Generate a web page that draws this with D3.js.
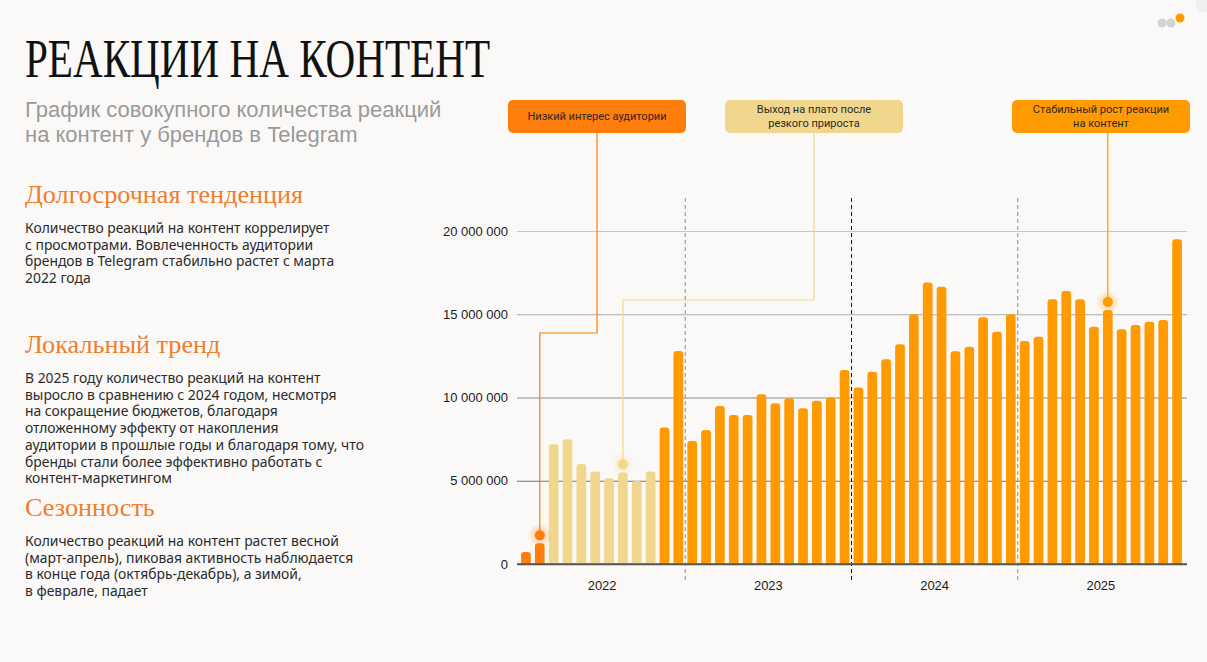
<!DOCTYPE html>
<html>
<head>
<meta charset="utf-8">
<script src="https://cdn.jsdelivr.net/npm/d3@7"></script>
<style>
  html, body { margin: 0; padding: 0; background: #faf9f7; }
  svg { display: block; }
</style>
</head>
<body>
<svg id="canvas" width="1207" height="662"></svg>
<script>
// data (reactions per month)
let years = [2022, 2023, 2024, 2025];
let monthNames = ["01", "02", "03", "04", "05", "06", "07", "08", "09", "10", "11", "12"];
let values2022 = [720000, 1240000, 7190000, 7500000, 6000000, 5550000, 5150000, 5500000, 4980000, 5550000, 8200000, 12800000];
let values2023 = [7390000, 8050000, 9490000, 8950000, 8950000, 10200000, 9650000, 9950000, 9350000, 9800000, 10000000, 11650000];
let values2024 = [10600000, 11550000, 12300000, 13200000, 15000000, 16900000, 16650000, 12780000, 13050000, 14820000, 13950000, 15000000];
let values2025 = [13400000, 13650000, 15900000, 16400000, 15900000, 14250000, 15250000, 14100000, 14350000, 14550000, 14650000, 19500000];
let yTicks = [0, 5000000, 10000000, 15000000, 20000000];

// callouts: label lines and the month they point at
let callouts = [
  { lines: ["Низкий интерес аудитории"], month: "2022-02", phase: "low" },
  { lines: ["Выход на плато после", "резкого прироста"], month: "2022-08", phase: "plateau" },
  { lines: ["Стабильный рост реакции", "на контент"], month: "2025-07", phase: "growth" }
];

let colors = { low: "#ff7d0a", plateau: "#f1d78d", growth: "#ff9a00" };

let allValues = [values2022, values2023, values2024, values2025];
let data = [];
years.forEach((y, i) => {
  monthNames.forEach((m, j) => {
    data.push({ key: y + "-" + m, year: y, value: allValues[i][j] });
  });
});

let phaseOf = (d, i) => {
  if (i < 2) return "low";
  if (i < 10) return "plateau";
  return "growth";
};

let svg = d3.select("#canvas");

// ---- left side texts ----
svg.append("text")
  .attr("x", 25).attr("y", 77)
  .attr("font-family", "Liberation Serif, serif")
  .attr("font-size", 55)
  .attr("fill", "#111")
  .attr("textLength", 465)
  .attr("lengthAdjust", "spacingAndGlyphs")
  .text("РЕАКЦИИ НА КОНТЕНТ");

let subtitle = ["График совокупного количества реакций", "на контент у брендов в Telegram"];
svg.append("g").selectAll("text").data(subtitle).enter().append("text")
  .attr("x", 25).attr("y", (d, i) => 117 + i * 25)
  .attr("font-family", "Liberation Sans, Arial, sans-serif")
  .attr("font-size", 22)
  .attr("fill", "#9a9a9a")
  .text(d => d);

let sections = [
  { title: "Долгосрочная тенденция", y: 203, body: [
    "Количество реакций на контент коррелирует",
    "с просмотрами. Вовлеченность аудитории",
    "брендов в Telegram стабильно растет с марта",
    "2022 года"] },
  { title: "Локальный тренд", y: 353, body: [
    "В 2025 году количество реакций на контент",
    "выросло в сравнению с 2024 годом, несмотря",
    "на сокращение бюджетов, благодаря",
    "отложенному эффекту от накопления",
    "аудитории в прошлые годы и благодаря тому, что",
    "бренды стали более эффективно работать с",
    "контент-маркетингом"] },
  { title: "Сезонность", y: 516, body: [
    "Количество реакций на контент растет весной",
    "(март-апрель), пиковая активность наблюдается",
    "в конце года (октябрь-декабрь), а зимой,",
    "в феврале, падает"] }
];

sections.forEach(s => {
  svg.append("text")
    .attr("x", 25).attr("y", s.y)
    .attr("font-family", "Liberation Serif, serif")
    .attr("font-size", 26.2)
    .attr("fill", "#f07e2c")
    .text(s.title);
  svg.append("g").selectAll("text").data(s.body).enter().append("text")
    .attr("x", 25).attr("y", (d, i) => s.y + 30 + i * 16.7)
    .attr("font-family", "Noto Sans, sans-serif")
    .attr("font-size", 13.9)
    .attr("fill", "#2b2b2b")
    .text(d => d);
});

// top-right dots
svg.append("circle").attr("cx", 1162).attr("cy", 23).attr("r", 4.5).attr("fill", "#d4d4d6");
svg.append("circle").attr("cx", 1171).attr("cy", 23).attr("r", 4.5).attr("fill", "#d4d4d6");
svg.append("circle").attr("cx", 1180).attr("cy", 18).attr("r", 4.5).attr("fill", "#ff9a00");
svg.append("rect").attr("x", 1196).attr("y", -10).attr("width", 30).attr("height", 22).attr("rx", 6).attr("fill", "#efefef");

// ---- chart ----
let x = d3.scaleBand()
  .domain(data.map(d => d.key))
  .range([519, 1184])
  .paddingInner(0.3)
  .paddingOuter(0.15);

let y = d3.scaleLinear().domain([0, 20000000]).range([564, 231]);

let locale = d3.formatLocale({ decimal: ",", thousands: " ", grouping: [3], currency: ["", ""] });
let fmt = locale.format(",d");

let gridColor = d3.scaleLinear().domain([0, 20000000]).range(["#555", "#c8c8c8"]);

let yAxis = svg.append("g")
  .attr("transform", "translate(517,0)")
  .call(d3.axisLeft(y).tickValues(yTicks).tickFormat(fmt).tickSize(-670).tickPadding(9));
yAxis.select(".domain").remove();
yAxis.selectAll(".tick line")
  .attr("stroke", d => gridColor(d))
  .attr("stroke-width", d => d === 0 ? 1.5 : 1);
yAxis.selectAll(".tick text")
  .attr("font-family", "Liberation Sans, Arial, sans-serif")
  .attr("font-size", 13)
  .attr("fill", "#1a1a1a");

// year separators
let sepColors = ["#8a8a8a", "#111", "#8a8a8a"];
years.slice(1).forEach((yr, i) => {
  let prev = x((yr - 1) + "-12");
  let next = x(yr + "-01");
  let sx = (prev + x.bandwidth() + next) / 2;
  svg.append("line")
    .attr("x1", sx).attr("x2", sx)
    .attr("y1", 198).attr("y2", 581)
    .attr("stroke", sepColors[i])
    .attr("stroke-width", 1)
    .attr("stroke-dasharray", "4,3");
});

// year labels
svg.append("g").selectAll("text").data(years).enter().append("text")
  .attr("x", yr => (x(yr + "-01") + x(yr + "-12") + x.bandwidth()) / 2)
  .attr("y", 590)
  .attr("text-anchor", "middle")
  .attr("font-family", "Liberation Sans, Arial, sans-serif")
  .attr("font-size", 13)
  .attr("fill", "#1a1a1a")
  .text(d => d);

// bars with rounded tops
let barPath = (d) => {
  let x0 = x(d.key), w = x.bandwidth(), y0 = y(d.value), b = y(0), r = 3;
  return "M" + x0 + "," + b +
    "V" + (y0 + r) +
    "Q" + x0 + "," + y0 + " " + (x0 + r) + "," + y0 +
    "H" + (x0 + w - r) +
    "Q" + (x0 + w) + "," + y0 + " " + (x0 + w) + "," + (y0 + r) +
    "V" + b + "Z";
};

svg.append("g").selectAll("path").data(data).enter().append("path")
  .attr("d", barPath)
  .attr("fill", (d, i) => colors[phaseOf(d, i)]);

// redraw zero line on top of bars
svg.append("line")
  .attr("x1", 517).attr("x2", 1187)
  .attr("y1", y(0)).attr("y2", y(0))
  .attr("stroke", "#555").attr("stroke-width", 1.5);

// ---- callouts ----
let defs = svg.append("defs");
Object.keys(colors).forEach(k => {
  let g = defs.append("radialGradient").attr("id", "glow-" + k);
  g.append("stop").attr("offset", "0%").attr("stop-color", colors[k]).attr("stop-opacity", 0.5);
  g.append("stop").attr("offset", "100%").attr("stop-color", colors[k]).attr("stop-opacity", 0);
});

let boxes = [
  { x: 508, w: 178, lineX: 597, elbowY: 333 },
  { x: 725, w: 178, lineX: 814, elbowY: 300 },
  { x: 1012, w: 178, lineX: null, elbowY: null }
];

callouts.forEach((c, i) => {
  let b = boxes[i];
  let d = data.find(e => e.key === c.month);
  let px = x(d.key) + x.bandwidth() / 2;
  let py = y(d.value) - 8;
  let col = colors[c.phase];
  let lx = b.lineX === null ? px : b.lineX;

  let pts = b.elbowY === null
    ? [[lx, 133], [px, py]]
    : [[lx, 133], [lx, b.elbowY], [px, b.elbowY], [px, py]];
  svg.append("path")
    .attr("d", d3.line()(pts))
    .attr("fill", "none")
    .attr("stroke", col)
    .attr("stroke-width", 1.2);

  svg.append("circle").attr("cx", px).attr("cy", py).attr("r", 12)
    .attr("fill", "url(#glow-" + c.phase + ")");
  svg.append("circle").attr("cx", px).attr("cy", py).attr("r", 5)
    .attr("fill", col);

  svg.append("rect")
    .attr("x", b.x).attr("y", 100)
    .attr("width", b.w).attr("height", 33)
    .attr("rx", 5)
    .attr("fill", col);

  let n = c.lines.length;
  svg.append("g").selectAll("text").data(c.lines).enter().append("text")
    .attr("x", b.x + b.w / 2)
    .attr("y", (t, k) => 120 + (k - (n - 1) / 2) * 14)
    .attr("text-anchor", "middle")
    .attr("font-family", "Roboto, Noto Sans, sans-serif")
    .attr("font-size", 11)
    .attr("fill", "#2a2a2a")
    .text(t => t);
});
</script>
</body>
</html>
